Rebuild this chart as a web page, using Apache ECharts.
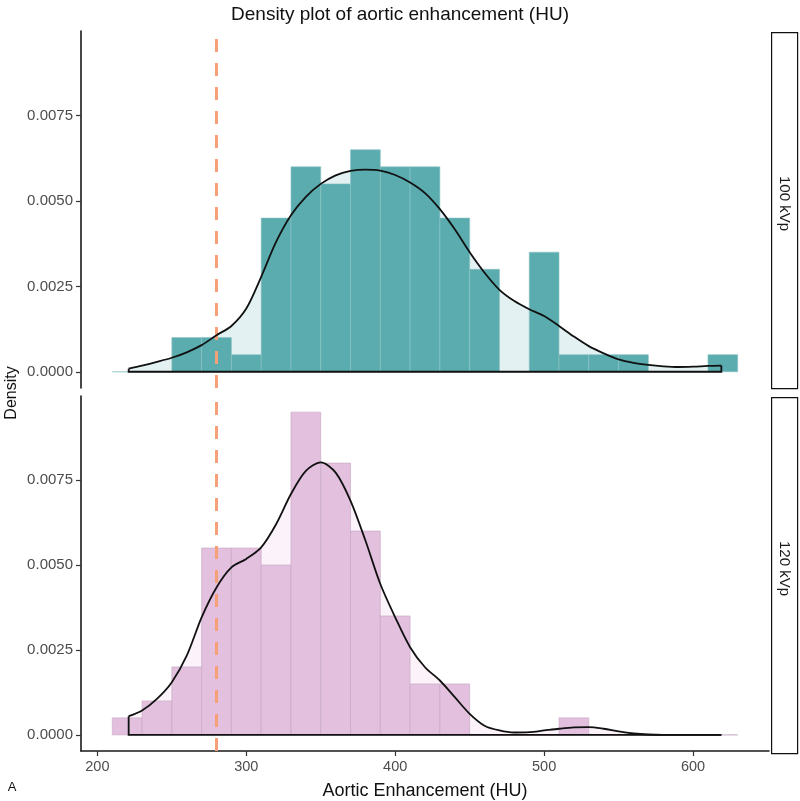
<!DOCTYPE html>
<html>
<head>
<meta charset="utf-8">
<script src="https://cdn.jsdelivr.net/npm/echarts@6.0.0/dist/echarts.min.js"></script>
<style>
html,body{margin:0;padding:0;background:#fff;}
#chart{width:800px;height:801px;}
</style>
</head>
<body>
<div id="chart"></div>
<script>
// ---------- data ----------
const chartTitle = 'Density plot of aortic enhancement (HU)';
const xTitle = 'Aortic Enhancement (HU)';
const yTitle = 'Density';
const panelLabels = ['100 kVp', '120 kVp'];
const cutoff = 280;
const binWidth = 20;
const binStarts = [210,230,250,270,290,310,330,350,370,390,410,430,450,470,490,510,530,550,570,590,610];
const hist100 = [0,0,0.001,0.001,0.0005,0.0045,0.006,0.0055,0.0065,0.006,0.006,0.0045,0.003,0,0.0035,0.0005,0.0005,0.0005,0,0,0.0005];
const hist120 = [0.0005,0.001,0.002,0.0055,0.0055,0.005,0.0095,0.008,0.006,0.0035,0.0015,0.0015,0,0,0,0.0005,0,0,0,0,0];
const densX = [221,230,240,250,260,270,280,290,300,310,320,330,340,350,360,370,380,390,400,410,420,430,440,450,460,470,480,490,500,510,520,530,540,550,560,570,580,590,600,610,619];
const dens100 = [0.00009,0.00018,0.00029,0.00041,0.00057,0.00078,0.00107,0.00134,0.00185,0.00278,0.0038,0.00458,0.00512,0.0055,0.00575,0.00588,0.00592,0.00589,0.00576,0.00554,0.00523,0.00476,0.00417,0.0035,0.0029,0.0024,0.00207,0.00183,0.00163,0.00134,0.00103,0.00075,0.00054,0.00036,0.00026,0.0002,0.00016,0.00014,0.00015,0.00017,0.00018];
const dens120 = [0.00055,0.00072,0.00106,0.00155,0.00233,0.00346,0.00434,0.00493,0.00518,0.00552,0.0062,0.00709,0.00777,0.00802,0.00772,0.00689,0.00572,0.00444,0.00346,0.00258,0.00199,0.0016,0.00111,0.00062,0.00027,0.00013,0.00007,0.00008,0.00013,0.00018,0.00022,0.00023,0.00018,0.0001,0.00004,0.00001,0,0,0,0,0];
const xTicks = [200,300,400,500,600];
const yTicks = [0,0.0025,0.005,0.0075];
const xRange = [189, 651];
const yRange = [-0.000475, 0.009975];

// ---------- styles ----------
const FONT = '"Liberation Sans", Arial, sans-serif';
const panels = [
  {hist: hist100, dens: dens100, fill: '#5aacaf', stroke: '#8fc3c4', area: '#e3f1f2'},
  {hist: hist120, dens: dens120, fill: '#e2c0de', stroke: '#c4a6c3', area: '#fbf3f9'}
];
const gridTops = [31, 396];
const gridH = 357;
const gridLeft = 81;
const gridW = 688;

const chart = echarts.init(document.getElementById('chart'), null, {renderer: 'canvas'});

const grids = gridTops.map(t => ({left: gridLeft, top: t, width: gridW, height: gridH, containLabel: false}));

const xAxes = gridTops.map((t, i) => ({
  type: 'value', gridIndex: i, min: xRange[0], max: xRange[1],
  splitLine: {show: false},
  axisLine: {show: i === 1, onZero: false, lineStyle: {color: '#1a1a1a', width: 1.6}},
  axisTick: {show: i === 1, length: 5, lineStyle: {color: '#333', width: 1.2}, customValues: xTicks},
  axisLabel: {show: i === 1, color: '#4d4d4d', fontSize: 14.5, fontFamily: FONT, margin: 8, customValues: xTicks},
  name: i === 1 ? xTitle : '', nameLocation: 'middle', nameGap: 31,
  nameTextStyle: {color: '#111', fontSize: 18, fontFamily: FONT}
}));

const yAxes = gridTops.map((t, i) => ({
  type: 'value', gridIndex: i, min: yRange[0], max: yRange[1],
  splitLine: {show: false},
  axisLine: {show: true, onZero: false, lineStyle: {color: '#1a1a1a', width: 1.6}},
  axisTick: {show: true, length: 5, lineStyle: {color: '#333', width: 1.2}, customValues: yTicks},
  axisLabel: {color: '#4d4d4d', fontSize: 15, fontFamily: FONT, margin: 8, customValues: yTicks,
    formatter: v => v.toFixed(4)}
}));

const series = [];
panels.forEach((p, i) => {
  // density area fill
  series.push({
    type: 'line', xAxisIndex: i, yAxisIndex: i, z: 1,
    data: densX.map((x, k) => [x, p.dens[k]]),
    smooth: 0.3, symbol: 'none', silent: true,
    lineStyle: {width: 0, opacity: 0},
    areaStyle: {color: p.area, opacity: 1, origin: 0}
  });
  // histogram bars
  series.push({
    type: 'custom', xAxisIndex: i, yAxisIndex: i, z: 2,
    data: binStarts.map((b, k) => [b, b + binWidth, p.hist[k]]),
    encode: {x: [0, 1], y: 2},
    renderItem: (params, api) => {
      const a = api.coord([api.value(0), api.value(2)]);
      const b = api.coord([api.value(1), 0]);
      return {type: 'rect', shape: {x: a[0], y: a[1], width: b[0] - a[0], height: b[1] - a[1]},
        style: {fill: p.fill, stroke: p.stroke, lineWidth: 0.6}};
    }
  });
  // cutoff dashed line
  series.push({
    type: 'line', xAxisIndex: i, yAxisIndex: i, z: 3,
    data: [[cutoff, yRange[0]], [cutoff, yRange[1]]],
    symbol: 'none', silent: true,
    lineStyle: {color: '#f6a079', width: 3, type: [13, 11]}
  });
  // density outline curve
  series.push({
    type: 'line', xAxisIndex: i, yAxisIndex: i, z: 4,
    data: densX.map((x, k) => [x, p.dens[k]]),
    smooth: 0.3, symbol: 'none', silent: true,
    lineStyle: {color: '#111', width: 1.8}
  });
  // density polygon sides and base
  const n = densX.length - 1;
  series.push({
    type: 'line', xAxisIndex: i, yAxisIndex: i, z: 4,
    data: [[densX[0], p.dens[0]], [densX[0], 0], [densX[n], 0], [densX[n], p.dens[n]]],
    symbol: 'none', silent: true,
    lineStyle: {color: '#111', width: 1.8, join: 'miter'}
  });
});

const graphics = [];
gridTops.forEach((t, i) => {
  graphics.push({
    type: 'rect', left: 771, top: t + 1, z: 10,
    shape: {width: 26, height: gridH - 1},
    style: {fill: '#fff', stroke: '#111', lineWidth: 1.2}
  });
  graphics.push({
    type: 'text', x: 784, y: t + gridH / 2 - 6, rotation: -Math.PI / 2, z: 11,
    style: {text: panelLabels[i], fill: '#1a1a1a', font: '15px ' + FONT, align: 'center', verticalAlign: 'middle'}
  });
});
graphics.push({
  type: 'text', x: 12, y: 393, rotation: Math.PI / 2, z: 11,
  style: {text: yTitle, fill: '#111', font: '16px ' + FONT, align: 'center', verticalAlign: 'middle'}
});
graphics.push({
  type: 'text', x: 12, y: 787, z: 11,
  style: {text: 'A', fill: '#111', font: '13px ' + FONT, align: 'center', verticalAlign: 'middle'}
});

chart.setOption({
  backgroundColor: '#ffffff',
  animation: false,
  title: {text: chartTitle, left: 'center', top: 0,
    textStyle: {color: '#111', fontSize: 19, fontWeight: 'normal', fontFamily: FONT}},
  grid: grids,
  xAxis: xAxes,
  yAxis: yAxes,
  series: series,
  graphic: graphics
});
</script>
</body>
</html>
